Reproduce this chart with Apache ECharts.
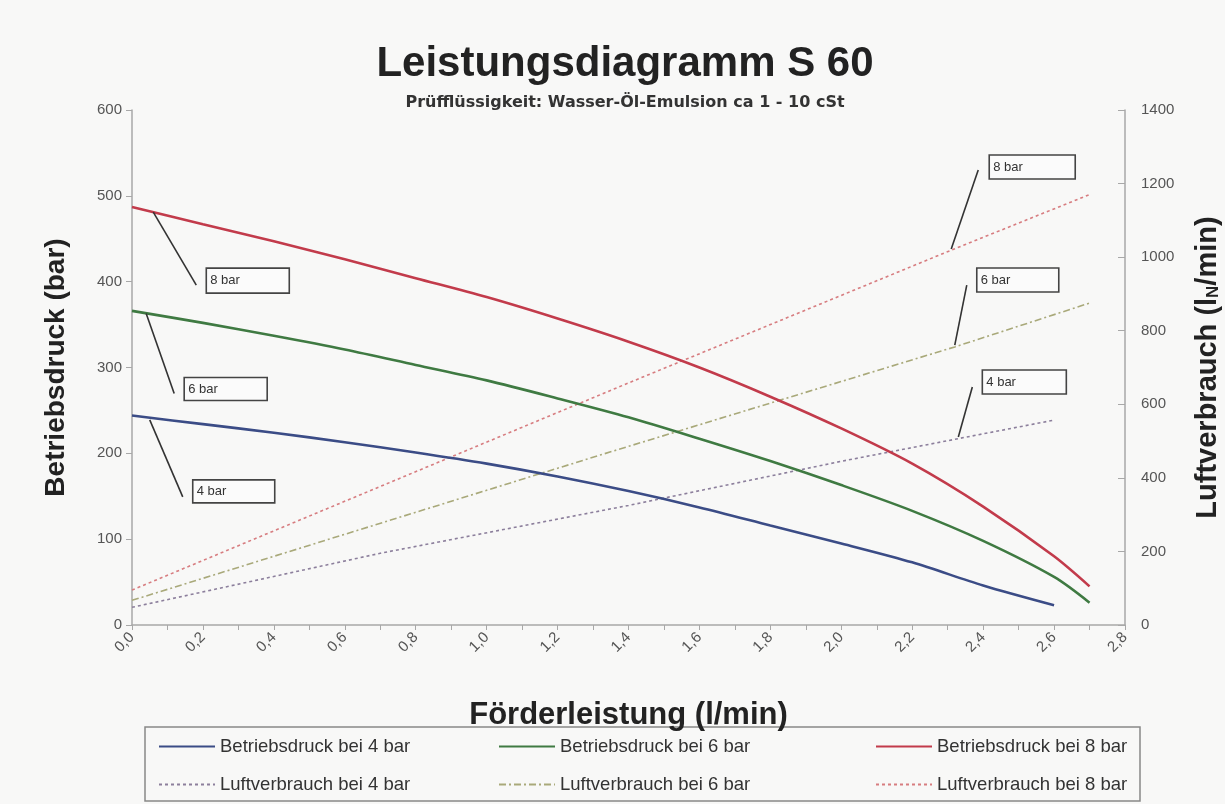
<!DOCTYPE html>
<html>
<head>
<meta charset="utf-8">
<script src="https://cdn.jsdelivr.net/npm/echarts@6/dist/echarts.min.js"></script>
<style>
html,body{margin:0;padding:0;background:#f8f8f7;}
#c{width:1225px;height:804px;}
</style>
</head>
<body>
<div id="c"></div>
<script>
// ---- data ----
const flowPts = [0.0, 0.2, 0.4, 0.6, 0.8, 1.0, 1.2, 1.4, 1.6, 1.8, 2.0, 2.2, 2.4, 2.6, 2.7];
const druck4 = [244, 234, 224, 213, 201, 188, 173, 156, 137, 116, 95, 73, 46, 23, null];
const druck6 = [366, 352, 337, 321, 303, 285, 264, 242, 217, 191, 163, 133, 98, 56, 26];
const druck8 = [487, 467, 447, 426, 404, 382, 357, 330, 300, 266, 229, 188, 138, 80, 45];

const luftFlow4 = [0.0, 0.7, 1.4, 2.0, 2.6];
const luft4 = [48, 195, 325, 445, 557];
const luftFlow6 = [0.0, 1.32, 2.32, 2.7];
const luft6 = [67, 462, 756, 875];
const luftFlow8 = [0.0, 0.9, 1.4, 2.31, 2.7];
const luft8 = [95, 457, 658, 1019, 1170];

const seriesNames = [
  'Betriebsdruck bei 4 bar', 'Betriebsdruck bei 6 bar', 'Betriebsdruck bei 8 bar',
  'Luftverbrauch bei 4 bar', 'Luftverbrauch bei 6 bar', 'Luftverbrauch bei 8 bar'
];
const leftTicks = [0, 600, 100];   // min, max, interval
const rightTicks = [0, 1400, 200];
const xTicks = [0, 2.8, 0.2];

// annotation anchors in data space: label, x, value, y-axis index
const annoLabels = ['8 bar', '6 bar', '4 bar', '8 bar', '6 bar', '4 bar'];
const annoX = [0.06, 0.04, 0.05, 2.31, 2.32, 2.33];
const annoY = [481, 363, 239, 1022, 761, 511];
const annoAxis = [0, 0, 0, 1, 1, 1];

// ---- helpers ----
function pairs(xs, ys) { return xs.map((x, i) => [x, ys[i]]).filter(p => p[1] !== null); }
const FONT = "'Liberation Sans', Arial, sans-serif";

// layout of annotation leaders/boxes relative to anchors (pixels)
const annoLayout = [
  {lead: [43, 73], box: [53, 56, 83, 25]},
  {lead: [28, 80], box: [38, 64, 83, 23]},
  {lead: [33, 77], box: [43, 60, 82, 23]},
  {lead: [27, -79], box: [38, -94, 86, 24]},
  {lead: [12, -60], box: [22, -77, 82, 24]},
  {lead: [14, -50], box: [24, -67, 84, 24]}
];

const chart = echarts.init(document.getElementById('c'), null, {renderer: 'canvas'});

const solidColors = ['#3b4c86', '#3f7a42', '#c23b4b'];
const dotColors = ['#8c7f9c', '#a9a97a', '#d77d80'];
const dotTypes = [[3, 3], [7, 3, 2, 3], [3, 3]];

const series = [
  {name: seriesNames[0], type: 'line', yAxisIndex: 0, data: pairs(flowPts, druck4)},
  {name: seriesNames[1], type: 'line', yAxisIndex: 0, data: pairs(flowPts, druck6)},
  {name: seriesNames[2], type: 'line', yAxisIndex: 0, data: pairs(flowPts, druck8)},
  {name: seriesNames[3], type: 'line', yAxisIndex: 1, data: pairs(luftFlow4, luft4)},
  {name: seriesNames[4], type: 'line', yAxisIndex: 1, data: pairs(luftFlow6, luft6)},
  {name: seriesNames[5], type: 'line', yAxisIndex: 1, data: pairs(luftFlow8, luft8)}
].map((s, i) => Object.assign(s, {
  symbol: 'none',
  smooth: i < 3 ? 0.3 : false,
  silent: true,
  z: i < 3 ? 3 : 2,
  lineStyle: i < 3
    ? {color: solidColors[i], width: 2.6}
    : {color: dotColors[i - 3], width: 1.6, type: dotTypes[i - 3]},
  itemStyle: {color: i < 3 ? solidColors[i] : dotColors[i - 3]}
}));

const legendCols = [153, 493, 870];
const legendRows = [732, 770];
const legends = seriesNames.map((n, i) => ({
  data: [n],
  left: legendCols[i % 3],
  top: legendRows[Math.floor(i / 3)],
  itemWidth: 56,
  itemHeight: 10,
  itemGap: 4,
  selectedMode: false,
  itemStyle: {opacity: 0},
  textStyle: {fontFamily: FONT, fontSize: 18.5, color: '#333'}
}));

const axisLabelStyle = {fontFamily: FONT, fontSize: 15, color: '#555'};

chart.setOption({
  animation: false,
  backgroundColor: '#f8f8f7',
  title: [
    {text: 'Leistungsdiagramm S 60', left: 620, top: 38, textAlign: 'center',
     textStyle: {fontFamily: FONT, fontSize: 42, fontWeight: 'bold', color: '#222'}},
    {text: 'Prüfflüssigkeit: Wasser-Öl-Emulsion ca 1 - 10 cSt', left: 620, top: 90, textAlign: 'center',
     textStyle: {fontFamily: "'DejaVu Sans', sans-serif", fontSize: 16, fontWeight: 'bold', color: '#333'}}
  ],
  legend: legends,
  grid: {left: 132, right: 100, top: 110, bottom: 179, containLabel: false, outerBoundsMode: 'none'},
  xAxis: {
    type: 'value', min: xTicks[0], max: xTicks[1], interval: xTicks[2],
    name: 'Förderleistung (l/min)', nameLocation: 'middle', nameGap: 75,
    nameTextStyle: {fontFamily: FONT, fontSize: 31, fontWeight: 'bold', color: '#222'},
    axisLine: {lineStyle: {color: '#a8a8a8', width: 1.5}},
    axisTick: {show: true, length: 5, inside: false, lineStyle: {color: '#a8a8a8'}},
    minorTick: {show: true, splitNumber: 2, length: 5, lineStyle: {color: '#a8a8a8'}},
    splitLine: {show: false},
    axisLabel: Object.assign({}, axisLabelStyle, {
      rotate: 45, margin: 10,
      formatter: v => v.toFixed(1).replace('.', ',')
    })
  },
  yAxis: [
    {
      type: 'value', position: 'left', min: leftTicks[0], max: leftTicks[1], interval: leftTicks[2],
      name: 'Betriebsdruck (bar)', nameLocation: 'middle', nameGap: 62, nameRotate: 90,
      nameTextStyle: {fontFamily: FONT, fontSize: 28, fontWeight: 'bold', color: '#222'},
      axisLine: {show: true, lineStyle: {color: '#a8a8a8', width: 1.5}},
      axisTick: {show: true, length: 6, lineStyle: {color: '#a8a8a8'}},
      splitLine: {show: false},
      axisLabel: Object.assign({}, axisLabelStyle, {margin: 10, formatter: v => String(v)})
    },
    {
      type: 'value', position: 'right', min: rightTicks[0], max: rightTicks[1], interval: rightTicks[2],
      name: '{a|Luftverbrauch (l}{s|N}{a|/min)}', nameLocation: 'middle', nameGap: 68, nameRotate: 90,
      nameTextStyle: {
        fontFamily: FONT, fontSize: 29, fontWeight: 'bold', color: '#222',
        rich: {
          a: {fontFamily: FONT, fontSize: 29, fontWeight: 'bold', color: '#222'},
          s: {fontFamily: FONT, fontSize: 17, fontWeight: 'bold', color: '#222', verticalAlign: 'bottom', padding: [12, 0, 0, 0]}
        }
      },
      axisLine: {show: true, lineStyle: {color: '#a8a8a8', width: 1.5}},
      axisTick: {show: true, inside: true, length: 7, lineStyle: {color: '#a8a8a8'}},
      splitLine: {show: false},
      axisLabel: Object.assign({}, axisLabelStyle, {margin: 16, formatter: v => String(v)})
    }
  ],
  series: series
});

// annotation boxes with leader lines, anchored via the chart's own scales
const graphics = [];
annoLabels.forEach((lab, i) => {
  const p = chart.convertToPixel({xAxisIndex: 0, yAxisIndex: annoAxis[i]}, [annoX[i], annoY[i]]);
  const L = annoLayout[i];
  graphics.push({
    type: 'line', silent: true, z: 10,
    shape: {x1: p[0], y1: p[1], x2: p[0] + L.lead[0], y2: p[1] + L.lead[1]},
    style: {stroke: '#333', lineWidth: 1.6}
  });
  graphics.push({
    type: 'rect', silent: true, z: 10,
    shape: {x: p[0] + L.box[0], y: p[1] + L.box[1], width: L.box[2], height: L.box[3]},
    style: {fill: '#fbfbfb', stroke: '#444', lineWidth: 1.6}
  });
  graphics.push({
    type: 'text', silent: true, z: 11,
    x: p[0] + L.box[0] + 4, y: p[1] + L.box[1] + L.box[3] / 2,
    style: {text: lab, fill: '#333', font: '13px ' + FONT, verticalAlign: 'middle', align: 'left'}
  });
});
// legend frame
graphics.push({
  type: 'rect', silent: true, z: 0,
  shape: {x: 145, y: 727, width: 995, height: 74},
  style: {fill: 'none', stroke: '#888', lineWidth: 1.5}
});
chart.setOption({graphic: graphics});
</script>
</body>
</html>
